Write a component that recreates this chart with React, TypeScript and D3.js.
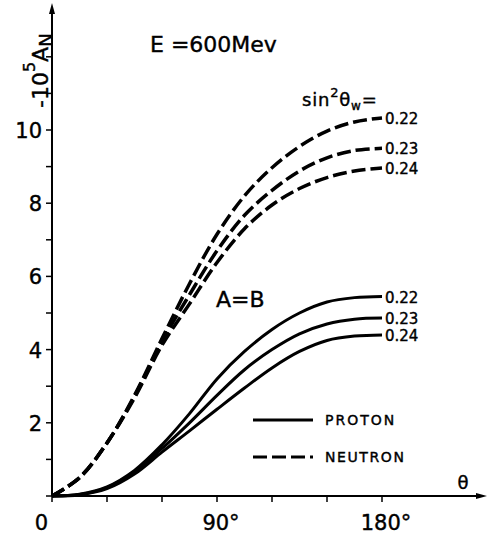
import { useEffect, useRef } from 'react';
import * as d3 from 'd3';

const W = 488;
const H = 535;

// theta sample points (degrees)
const thetas = [0, 15, 30, 45, 60, 75, 90, 105, 120, 135, 150, 165, 180];

// -10^5 A_N, proton (solid)
const proton022 = [0, 0.05, 0.25, 0.7, 1.4, 2.25, 3.2, 3.95, 4.55, 5.0, 5.3, 5.42, 5.45];
const proton023 = [0, 0.04, 0.23, 0.66, 1.3, 2.0, 2.75, 3.45, 4.0, 4.43, 4.7, 4.83, 4.86];
const proton024 = [0, 0.03, 0.2, 0.6, 1.2, 1.78, 2.37, 2.95, 3.5, 3.95, 4.25, 4.37, 4.4];

// neutron (dashed)
const neutron022 = [0, 0.5, 1.45, 2.75, 4.3, 5.8, 7.15, 8.2, 8.97, 9.55, 9.97, 10.22, 10.33];
const neutron023 = [0, 0.5, 1.45, 2.72, 4.22, 5.5, 6.7, 7.67, 8.35, 8.88, 9.24, 9.44, 9.5];
const neutron024 = [0, 0.5, 1.45, 2.68, 4.12, 5.25, 6.38, 7.3, 7.95, 8.4, 8.7, 8.88, 8.96];

const sinLabels = ['0.22', '0.23', '0.24'];
const yTickLabels = [0, 2, 4, 6, 8, 10];
const yMinorTicks = [1, 3, 5, 7, 9, 11, 12];
const xTicks = [0, 30, 60, 90, 120, 150, 180];
const xTickLabels = [
  { v: 90, t: '90°' },
  { v: 180, t: '180°' },
];

const FONT = "'DejaVu Sans', sans-serif";

export default function App() {
  const svgRef = useRef<SVGSVGElement>(null);

  useEffect(() => {
    const svg = d3.select(svgRef.current);
    svg.selectAll('*').remove();

    const x = d3.scaleLinear().domain([0, 180]).range([52, 382]);
    const y = d3.scaleLinear().domain([0, 10]).range([496, 130]);

    const line = d3
      .line<[number, number]>()
      .x(d => x(d[0]))
      .y(d => y(d[1]))
      .curve(d3.curveCatmullRom.alpha(0.5));

    const toPts = (vals: number[]) => thetas.map((t, i) => [t, vals[i]] as [number, number]);

    // axes
    const ax = svg.append('g').attr('stroke', '#000').attr('stroke-width', 2);
    ax.append('line').attr('x1', x(0)).attr('x2', 482).attr('y1', y(0)).attr('y2', y(0));
    ax.append('line').attr('x1', x(0)).attr('x2', x(0)).attr('y1', y(0)).attr('y2', 10);
    svg.append('path')
      .attr('d', `M${x(0) - 3},14 L${x(0)},3 L${x(0) + 3},14 Z`)
      .attr('fill', '#000');
    svg.append('path')
      .attr('d', `M476,${y(0) - 3} L487,${y(0)} L476,${y(0) + 3} Z`)
      .attr('fill', '#000');

    // ticks
    [...yTickLabels, ...yMinorTicks].forEach(v => {
      ax.append('line')
        .attr('x1', x(0) - 6).attr('x2', x(0))
        .attr('y1', y(v)).attr('y2', y(v))
        .attr('stroke-width', 1.5);
    });
    xTicks.forEach(v => {
      ax.append('line')
        .attr('x1', x(v)).attr('x2', x(v))
        .attr('y1', y(0)).attr('y2', y(0) + 6)
        .attr('stroke-width', 1.5);
    });

    const txt = svg.append('g')
      .attr('font-family', FONT)
      .attr('fill', '#000')
      .attr('stroke', '#000')
      .attr('stroke-width', 0.4);

    yTickLabels.forEach(v => {
      txt.append('text')
        .attr('x', v === 0 ? 48 : 42)
        .attr('y', v === 0 ? 530 : y(v) + 8)
        .attr('text-anchor', 'end')
        .attr('font-size', 21)
        .text(v);
    });
    xTickLabels.forEach(d => {
      txt.append('text')
        .attr('x', x(d.v) + 4)
        .attr('y', 530)
        .attr('text-anchor', 'middle')
        .attr('font-size', 21)
        .text(d.t);
    });

    // theta axis label
    txt.append('text')
      .attr('x', 463).attr('y', 489)
      .attr('text-anchor', 'middle')
      .attr('font-size', 18)
      .text('θ');

    // y axis title, rotated
    const yt = txt.append('text')
      .attr('transform', 'translate(48,108) rotate(-90)')
      .attr('font-size', 22);
    yt.append('tspan').text('-10');
    yt.append('tspan').attr('dy', -13).attr('font-size', 16).text('5');
    yt.append('tspan').attr('dy', 13).text('A');
    yt.append('tspan').attr('dy', 4).attr('font-size', 18).text('N');

    txt.append('text')
      .attr('x', 150).attr('y', 52)
      .attr('font-size', 22)
      .text('E =600Mev');

    const st = txt.append('text')
      .attr('x', 302).attr('y', 106)
      .attr('font-size', 18)
      .attr('letter-spacing', 0.8);
    st.append('tspan').text('sin');
    st.append('tspan').attr('dy', -9).attr('font-size', 13).text('2');
    st.append('tspan').attr('dy', 9).text('θ');
    st.append('tspan').attr('dy', 4).attr('font-size', 12).text('w');
    st.append('tspan').attr('dy', -4).text('=');

    txt.append('text')
      .attr('x', 216).attr('y', 307)
      .attr('font-size', 22)
      .text('A=B');

    // curves
    const curves = svg.append('g').attr('fill', 'none').attr('stroke', '#000');
    const neutrons = [neutron022, neutron023, neutron024];
    const protons = [proton022, proton023, proton024];

    neutrons.forEach((vals, i) => {
      curves.append('path')
        .attr('d', line(toPts(vals)))
        .attr('stroke-width', 3.5)
        .attr('stroke-dasharray', '14 5');
      txt.append('text')
        .attr('x', x(180) + 3).attr('y', y(vals[vals.length - 1]) + 6)
        .attr('font-size', 15)
        .text(sinLabels[i]);
    });
    protons.forEach((vals, i) => {
      curves.append('path')
        .attr('d', line(toPts(vals)))
        .attr('stroke-width', 3);
      txt.append('text')
        .attr('x', x(180) + 3).attr('y', y(vals[vals.length - 1]) + 6)
        .attr('font-size', 15)
        .text(sinLabels[i]);
    });

    // legend
    const lg = svg.append('g');
    lg.append('line').attr('x1', 253).attr('x2', 313).attr('y1', 420).attr('y2', 420)
      .attr('stroke', '#000').attr('stroke-width', 3);
    lg.append('line').attr('x1', 253).attr('x2', 313).attr('y1', 457).attr('y2', 457)
      .attr('stroke', '#000').attr('stroke-width', 3).attr('stroke-dasharray', '14 5');
    txt.append('text').attr('x', 325).attr('y', 425).attr('font-size', 14)
      .attr('letter-spacing', 2).text('PROTON');
    txt.append('text').attr('x', 325).attr('y', 462).attr('font-size', 14)
      .attr('letter-spacing', 1.6).text('NEUTRON');
  }, []);

  return (
    <svg
      ref={svgRef}
      width={W}
      height={H}
      style={{ position: 'absolute', left: 0, top: 0, background: '#fff' }}
    />
  );
}
